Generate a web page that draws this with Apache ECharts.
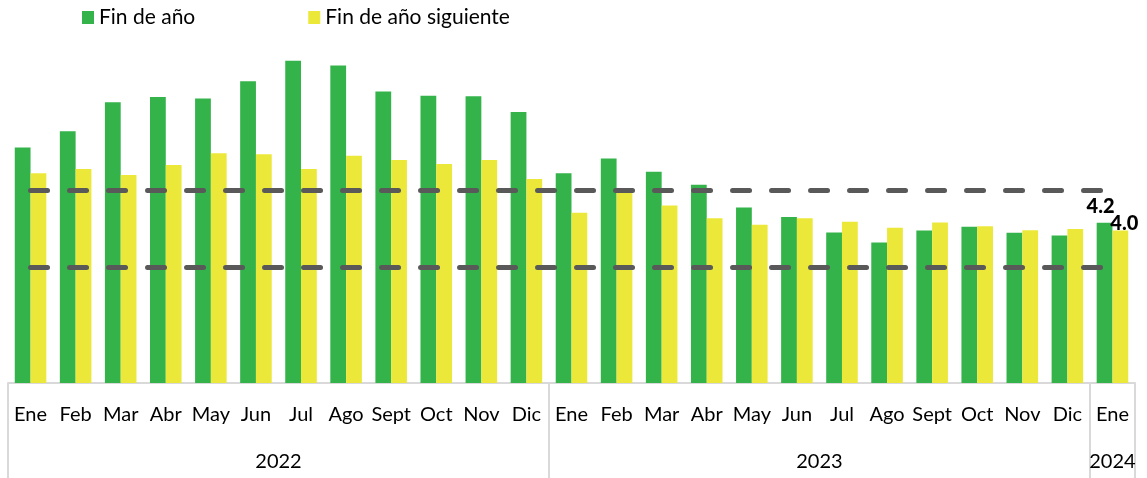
<!DOCTYPE html>
<html>
<head>
<meta charset="utf-8">
<script src="https://cdn.jsdelivr.net/npm/echarts@6/dist/echarts.min.js"></script>
<style>
  html, body { margin: 0; padding: 0; background: #fff; }
  #chart { width: 1147px; height: 478px; }
</style>
</head>
<body>
<div id="chart"></div>
<script>
// categorías (meses) y años
const months = ['Ene', 'Feb', 'Mar', 'Abr', 'May', 'Jun', 'Jul', 'Ago', 'Sept', 'Oct', 'Nov', 'Dic',
  'Ene', 'Feb', 'Mar', 'Abr', 'May', 'Jun', 'Jul', 'Ago', 'Sept', 'Oct', 'Nov', 'Dic', 'Ene']
const years = ['2022', '2023', '2024']
const yearCenters = [6, 18, 24.5]
const yearBounds = [0, 12, 24, 25]

// expectativas de inflación
const finAnio = [6.12, 6.54, 7.29, 7.43, 7.39, 7.84, 8.37, 8.25, 7.57, 7.46, 7.45, 7.04,
  5.45, 5.83, 5.49, 5.15, 4.56, 4.31, 3.91, 3.65, 3.96, 4.06, 3.90, 3.83, 4.16]
const finAnioSig = [5.45, 5.56, 5.40, 5.66, 5.97, 5.94, 5.56, 5.90, 5.79, 5.69, 5.79, 5.30,
  4.42, 4.98, 4.61, 4.28, 4.11, 4.28, 4.19, 4.03, 4.17, 4.07, 3.97, 4.00, 3.96]

// rango meta
const limiteSup = 5
const limiteInf = 3

const chart = echarts.init(document.getElementById('chart'))
const FONT = 'Lato'
const last = months.length - 1

function withLastLabel(arr, offset) {
  return arr.map((v, i) => i === last ? {
    value: v,
    label: {
      show: true,
      position: 'top',
      distance: 2,
      offset: offset,
      formatter: p => p.value.toFixed(1),
      fontFamily: FONT,
      fontSize: 20,
      fontWeight: 900,
      color: '#000'
    }
  } : v)
}

const dashLine = {
  type: 'line',
  symbol: 'none',
  silent: true,
  z: 5,
  lineStyle: {
    color: '#595959',
    width: 5,
    type: [17, 22],
    cap: 'round'
  }
}

const option = {
  animation: false,
  textStyle: { fontFamily: FONT },
  legend: {
    data: ['Fin de año', 'Fin de año siguiente'],
    left: 77,
    top: 2,
    icon: 'rect',
    itemWidth: 12,
    itemHeight: 13,
    itemGap: 113,
    textStyle: { fontFamily: FONT, fontSize: 21, color: '#000', padding: [0, 0, 0, 0] }
  },
  grid: { left: 8, right: 12, top: 36.5, bottom: 95 },
  xAxis: [
    {
      type: 'category',
      data: months,
      axisLine: { lineStyle: { color: '#d9d9d9', width: 2 } },
      axisTick: { show: false },
      axisLabel: {
        interval: 0,
        margin: 22,
        fontFamily: FONT,
        fontSize: 20,
        color: '#000'
      }
    },
    {
      type: 'value',
      position: 'bottom',
      min: 0,
      max: 25,
      axisLine: { show: false },
      splitLine: { show: false },
      axisTick: {
        show: true,
        customValues: yearBounds,
        length: 95,
        lineStyle: { color: '#d9d9d9', width: 2 }
      },
      axisLabel: {
        customValues: yearCenters,
        margin: 69,
        fontFamily: FONT,
        fontSize: 20,
        color: '#000',
        formatter: v => years[yearCenters.indexOf(v)]
      }
    }
  ],
  yAxis: {
    type: 'value',
    min: 0,
    max: 9,
    show: false,
    splitLine: { show: false }
  },
  series: [
    {
      name: 'Fin de año',
      type: 'bar',
      barGap: '0%',
      barCategoryGap: '30%',
      itemStyle: { color: '#33b34a' },
      data: withLastLabel(finAnio, [-4, -4])
    },
    {
      name: 'Fin de año siguiente',
      type: 'bar',
      itemStyle: { color: '#ebe83a' },
      data: withLastLabel(finAnioSig, [4, 5])
    },
    Object.assign({ name: 'sup', data: months.map(() => limiteSup) }, dashLine),
    Object.assign({ name: 'inf', data: months.map(() => limiteInf) }, dashLine)
  ]
}

chart.setOption(option)
</script>
</body>
</html>
